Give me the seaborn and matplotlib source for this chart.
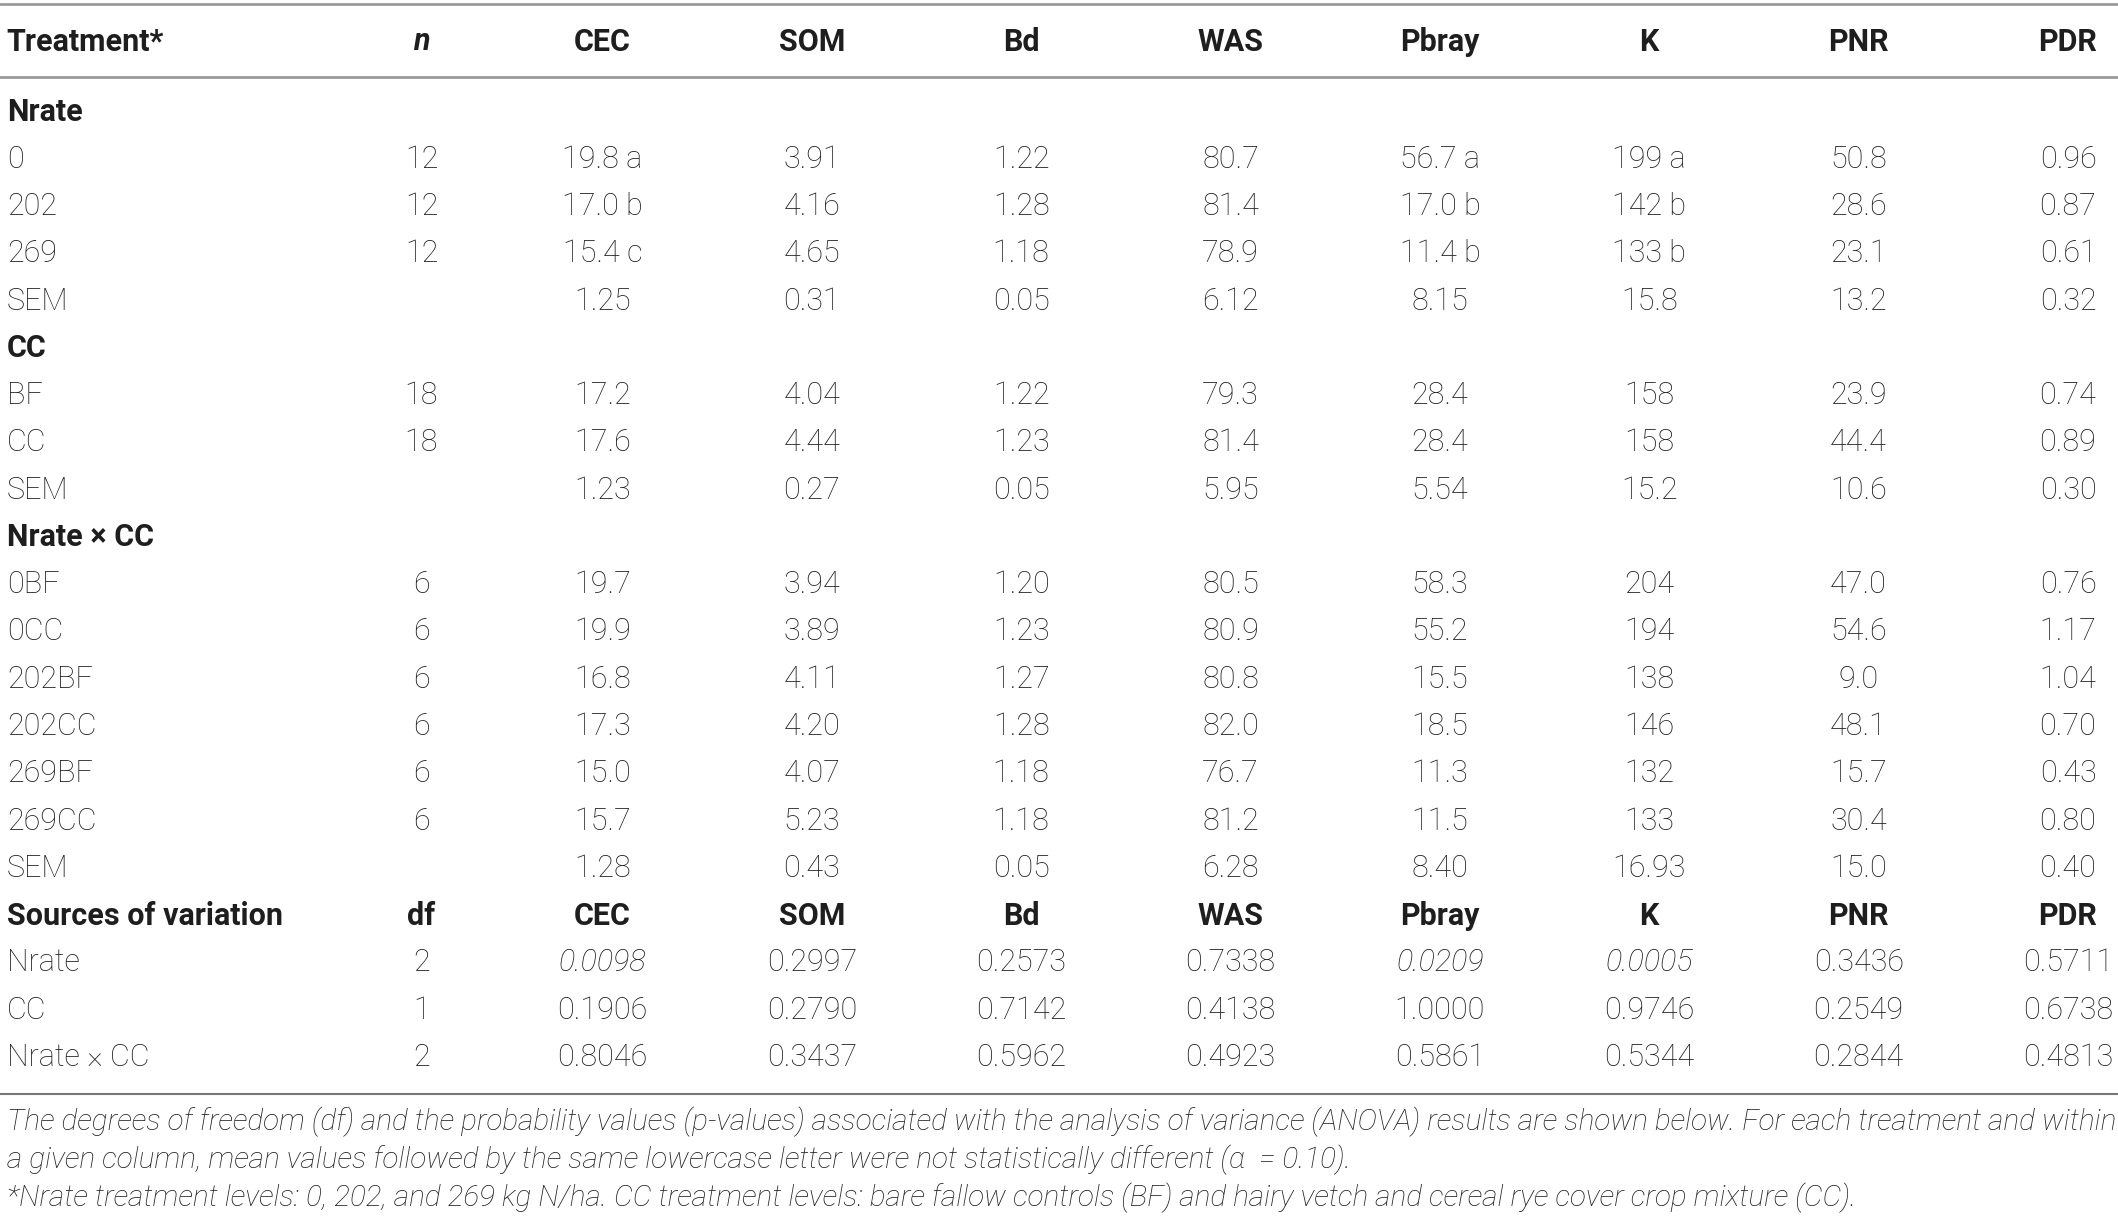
import matplotlib.pyplot as plt
import seaborn as sns

# column headers and row labels
columns = ["CEC", "SOM", "Bd", "WAS", "Pbray", "K", "PNR", "PDR"]

nrate_labels = ["0", "202", "269", "SEM"]
nrate_n = ["12", "12", "12", ""]
cc_labels = ["BF", "CC", "SEM"]
cc_n = ["18", "18", ""]
inter_labels = ["0BF", "0CC", "202BF", "202CC", "269BF", "269CC", "SEM"]
inter_n = ["6", "6", "6", "6", "6", "6", ""]
source_labels = ["Nrate", "CC", "Nrate \u00d7 CC"]
source_df = ["2", "1", "2"]

# values per variable: Nrate rows, CC rows, Nrate x CC rows, p-values
cec = ["19.8 a", "17.0 b", "15.4 c", "1.25", "17.2", "17.6", "1.23",
       "19.7", "19.9", "16.8", "17.3", "15.0", "15.7", "1.28",
       "0.0098", "0.1906", "0.8046"]
som = ["3.91", "4.16", "4.65", "0.31", "4.04", "4.44", "0.27",
       "3.94", "3.89", "4.11", "4.20", "4.07", "5.23", "0.43",
       "0.2997", "0.2790", "0.3437"]
bd = ["1.22", "1.28", "1.18", "0.05", "1.22", "1.23", "0.05",
      "1.20", "1.23", "1.27", "1.28", "1.18", "1.18", "0.05",
      "0.2573", "0.7142", "0.5962"]
was = ["80.7", "81.4", "78.9", "6.12", "79.3", "81.4", "5.95",
       "80.5", "80.9", "80.8", "82.0", "76.7", "81.2", "6.28",
       "0.7338", "0.4138", "0.4923"]
pbray = ["56.7 a", "17.0 b", "11.4 b", "8.15", "28.4", "28.4", "5.54",
         "58.3", "55.2", "15.5", "18.5", "11.3", "11.5", "8.40",
         "0.0209", "1.0000", "0.5861"]
k = ["199 a", "142 b", "133 b", "15.8", "158", "158", "15.2",
     "204", "194", "138", "146", "132", "133", "16.93",
     "0.0005", "0.9746", "0.5344"]
pnr = ["50.8", "28.6", "23.1", "13.2", "23.9", "44.4", "10.6",
       "47.0", "54.6", "9.0", "48.1", "15.7", "30.4", "15.0",
       "0.3436", "0.2549", "0.2844"]
pdr = ["0.96", "0.87", "0.61", "0.32", "0.74", "0.89", "0.30",
       "0.76", "1.17", "1.04", "0.70", "0.43", "0.80", "0.40",
       "0.5711", "0.6738", "0.4813"]

# significant p-values shown in italics (row index in p-value block, column)
italic_cells = [(0, "CEC"), (0, "Pbray"), (0, "K")]

footnotes = [
    "The degrees of freedom (df) and the probability values (p-values) associated with the analysis of variance (ANOVA) results are shown below. For each treatment and within",
    "a given column, mean values followed by the same lowercase letter were not statistically different (\u03b1  = 0.10).",
    "*Nrate treatment levels: 0, 202, and 269 kg N/ha. CC treatment levels: bare fallow controls (BF) and hairy vetch and cereal rye cover crop mixture (CC).",
]

sns.set_theme(style="white")
plt.rcParams["font.family"] = ["Roboto", "DejaVu Sans"]

values = dict(zip(columns, [cec, som, bd, was, pbray, k, pnr, pdr]))

W, H = 1568, 902
fig = plt.figure(figsize=(21.18, 12.18), dpi=100)
ax = fig.add_axes([0, 0, 1, 1])
ax.set_xlim(0, W)
ax.set_ylim(H, 0)
ax.axis("off")

txt = "#1e1e1e"
fs = 22
body_w = "light"
label_x = 5
n_x = 312
col_x = [446 + 155 * i for i in range(len(columns))]

row_h = 35
y0 = 83  # first section title


def header_row(y, first, second, second_italic=False):
    ax.text(label_x, y, first, ha="left", va="center", fontsize=fs,
            fontweight="bold", color=txt)
    ax.text(n_x, y, second, ha="center", va="center", fontsize=fs,
            fontweight="bold", color=txt,
            style="italic" if second_italic else "normal")
    for cx, c in zip(col_x, columns):
        ax.text(cx, y, c, ha="center", va="center", fontsize=fs,
                fontweight="bold", color=txt)


# top rules
ax.axhline(3, color="#9a9a9a", lw=2)
header_row(31, "Treatment*", "n", second_italic=True)
ax.axhline(57, color="#9a9a9a", lw=2)

sections = [
    ("Nrate", nrate_labels, nrate_n),
    ("CC", cc_labels, cc_n),
    ("Nrate \u00d7 CC", inter_labels, inter_n),
]

y = y0
vi = 0
for title, labels, ns in sections:
    ax.text(label_x, y, title, ha="left", va="center", fontsize=fs,
            fontweight="bold", color=txt)
    y += row_h
    for lab, nv in zip(labels, ns):
        ax.text(label_x, y, lab, ha="left", va="center", fontsize=fs,
                fontweight=body_w, color=txt)
        ax.text(n_x, y, nv, ha="center", va="center", fontsize=fs,
                fontweight=body_w, color=txt)
        for cx, c in zip(col_x, columns):
            ax.text(cx, y, values[c][vi], ha="center", va="center",
                    fontsize=fs, fontweight=body_w, color=txt)
        vi += 1
        y += row_h

header_row(y, "Sources of variation", "df")
y += row_h
for j, (lab, d) in enumerate(zip(source_labels, source_df)):
    ax.text(label_x, y, lab, ha="left", va="center", fontsize=fs,
            fontweight=body_w, color=txt)
    ax.text(n_x, y, d, ha="center", va="center", fontsize=fs,
            fontweight=body_w, color=txt)
    for cx, c in zip(col_x, columns):
        st = "italic" if (j, c) in italic_cells else "normal"
        ax.text(cx, y, values[c][vi], ha="center", va="center",
                fontsize=fs, fontweight=body_w, style=st, color=txt)
    vi += 1
    y += row_h

ax.axhline(810, color="#777777", lw=1.5)

for i, line in enumerate(footnotes):
    ax.text(label_x, 831 + 28 * i, line, ha="left", va="center",
            fontsize=21.4, fontweight=body_w, style="italic", color=txt)

fig.savefig("out.png", dpi=100, facecolor="white")
